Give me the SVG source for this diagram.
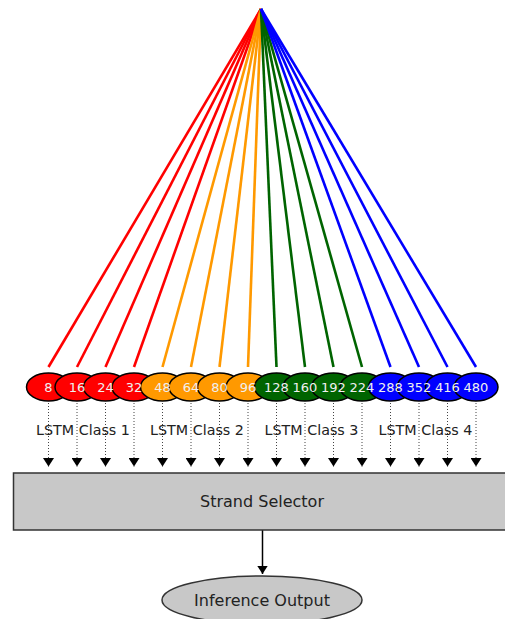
<svg xmlns="http://www.w3.org/2000/svg" width="505" height="619" viewBox="0 0 505 619">
  <style>
    .fan line { stroke-width: 2.6; stroke-linecap: butt; }
    .red { stroke: #ff0000; fill: #ff0000; }
    .orange { stroke: #ff9900; fill: #ff9900; }
    .green { stroke: #006400; fill: #006400; }
    .blue { stroke: #0000ff; fill: #0000ff; }
    .model ellipse { stroke: #000; stroke-width: 1.5; }
    .num { font-family: "DejaVu Sans", sans-serif; font-size: 13px; fill: #f0f0f0; text-anchor: middle; }
    .feed { stroke: #444; stroke-width: 1; stroke-dasharray: 1 2; }
    .solid { stroke: #000; stroke-width: 1.5; }
    .box { fill: #c8c8c8; stroke: #333; stroke-width: 1.5; }
    .lbl { font-family: "DejaVu Sans", sans-serif; font-size: 14.3px; fill: #222; text-anchor: middle; }
    .big { font-size: 16px; }
  </style>
  <defs>
    <marker id="tip" viewBox="0 0 10 10" refX="10" refY="5" markerWidth="8.5" markerHeight="11" markerUnits="userSpaceOnUse" orient="auto" preserveAspectRatio="none">
      <path d="M0,0 L10,5 L0,10 Z" fill="#000"/>
    </marker>
  </defs>

  <!-- fan-out from the source point to each model -->
  <g id="fan" class="fan">
    <line class="red" x1="261" y1="9" x2="48.5" y2="367"/>
    <line class="red" x1="261" y1="9" x2="77" y2="367"/>
    <line class="red" x1="261" y1="9" x2="105.5" y2="367"/>
    <line class="red" x1="261" y1="9" x2="134" y2="367"/>
    <line class="orange" x1="261" y1="9" x2="162.5" y2="367"/>
    <line class="orange" x1="261" y1="9" x2="191" y2="367"/>
    <line class="orange" x1="261" y1="9" x2="219.5" y2="367"/>
    <line class="orange" x1="261" y1="9" x2="248" y2="367"/>
    <line class="green" x1="261" y1="9" x2="276.5" y2="367"/>
    <line class="green" x1="261" y1="9" x2="305" y2="367"/>
    <line class="green" x1="261" y1="9" x2="333.5" y2="367"/>
    <line class="green" x1="261" y1="9" x2="362" y2="367"/>
    <line class="blue" x1="261" y1="9" x2="390.5" y2="367"/>
    <line class="blue" x1="261" y1="9" x2="419" y2="367"/>
    <line class="blue" x1="261" y1="9" x2="447.5" y2="367"/>
    <line class="blue" x1="261" y1="9" x2="476" y2="367"/>
  </g>

  <!-- connectors from models to selector, and selector to output -->
  <g id="connectors">
    <line class="feed" x1="48.5" y1="400" x2="48.5" y2="466.5" marker-end="url(#tip)"/>
    <line class="feed" x1="77" y1="400" x2="77" y2="466.5" marker-end="url(#tip)"/>
    <line class="feed" x1="105.5" y1="400" x2="105.5" y2="466.5" marker-end="url(#tip)"/>
    <line class="feed" x1="134" y1="400" x2="134" y2="466.5" marker-end="url(#tip)"/>
    <line class="feed" x1="162.5" y1="400" x2="162.5" y2="466.5" marker-end="url(#tip)"/>
    <line class="feed" x1="191" y1="400" x2="191" y2="466.5" marker-end="url(#tip)"/>
    <line class="feed" x1="219.5" y1="400" x2="219.5" y2="466.5" marker-end="url(#tip)"/>
    <line class="feed" x1="248" y1="400" x2="248" y2="466.5" marker-end="url(#tip)"/>
    <line class="feed" x1="276.5" y1="400" x2="276.5" y2="466.5" marker-end="url(#tip)"/>
    <line class="feed" x1="305" y1="400" x2="305" y2="466.5" marker-end="url(#tip)"/>
    <line class="feed" x1="333.5" y1="400" x2="333.5" y2="466.5" marker-end="url(#tip)"/>
    <line class="feed" x1="362" y1="400" x2="362" y2="466.5" marker-end="url(#tip)"/>
    <line class="feed" x1="390.5" y1="400" x2="390.5" y2="466.5" marker-end="url(#tip)"/>
    <line class="feed" x1="419" y1="400" x2="419" y2="466.5" marker-end="url(#tip)"/>
    <line class="feed" x1="447.5" y1="400" x2="447.5" y2="466.5" marker-end="url(#tip)"/>
    <line class="feed" x1="476" y1="400" x2="476" y2="466.5" marker-end="url(#tip)"/>
    <line class="solid" x1="262.5" y1="530" x2="262.5" y2="574" marker-end="url(#tip)"/>
  </g>

  <!-- model nodes; each later node overlaps the one before -->
  <g id="m8" class="model"><ellipse class="red" cx="48.5" cy="387" rx="22" ry="14"/></g>
  <g id="m16" class="model"><ellipse class="red" cx="77" cy="387" rx="22" ry="14"/></g>
  <g id="m24" class="model"><ellipse class="red" cx="105.5" cy="387" rx="22" ry="14"/></g>
  <g id="m32" class="model"><ellipse class="red" cx="134" cy="387" rx="22" ry="14"/></g>
  <g id="m48" class="model"><ellipse class="orange" cx="162.5" cy="387" rx="22" ry="14"/></g>
  <g id="m64" class="model"><ellipse class="orange" cx="191" cy="387" rx="22" ry="14"/></g>
  <g id="m80" class="model"><ellipse class="orange" cx="219.5" cy="387" rx="22" ry="14"/></g>
  <g id="m96" class="model"><ellipse class="orange" cx="248" cy="387" rx="22" ry="14"/></g>
  <g id="m128" class="model"><ellipse class="green" cx="276.5" cy="387" rx="22" ry="14"/></g>
  <g id="m160" class="model"><ellipse class="green" cx="305" cy="387" rx="22" ry="14"/></g>
  <g id="m192" class="model"><ellipse class="green" cx="333.5" cy="387" rx="22" ry="14"/></g>
  <g id="m224" class="model"><ellipse class="green" cx="362" cy="387" rx="22" ry="14"/></g>
  <g id="m288" class="model"><ellipse class="blue" cx="390.5" cy="387" rx="22" ry="14"/></g>
  <g id="m352" class="model"><ellipse class="blue" cx="419" cy="387" rx="22" ry="14"/></g>
  <g id="m416" class="model"><ellipse class="blue" cx="447.5" cy="387" rx="22" ry="14"/></g>
  <g id="m480" class="model"><ellipse class="blue" cx="476" cy="387" rx="22" ry="14"/></g>

  <!-- model sizes, drawn above all ellipses so none are clipped -->
  <g id="model-sizes" class="num">
    <text x="48.5" y="391.5">8</text>
    <text x="77" y="391.5">16</text>
    <text x="105.5" y="391.5">24</text>
    <text x="134" y="391.5">32</text>
    <text x="162.5" y="391.5">48</text>
    <text x="191" y="391.5">64</text>
    <text x="219.5" y="391.5">80</text>
    <text x="248" y="391.5">96</text>
    <text x="276.5" y="391.5">128</text>
    <text x="305" y="391.5">160</text>
    <text x="333.5" y="391.5">192</text>
    <text x="362" y="391.5">224</text>
    <text x="390.5" y="391.5">288</text>
    <text x="419" y="391.5">352</text>
    <text x="447.5" y="391.5">416</text>
    <text x="476" y="391.5">480</text>
  </g>

  <!-- class labels -->
  <g id="class-labels">
    <text class="lbl" x="83" y="435">LSTM Class 1</text>
    <text class="lbl" x="197" y="435">LSTM Class 2</text>
    <text class="lbl" x="311.5" y="435">LSTM Class 3</text>
    <text class="lbl" x="425.5" y="435">LSTM Class 4</text>
  </g>

  <g id="strand-selector">
    <rect class="box" x="13.5" y="473" width="500" height="57"/>
    <text class="lbl big" x="262" y="506.5">Strand Selector</text>
  </g>

  <g id="inference-output">
    <ellipse class="box" cx="262" cy="600" rx="100" ry="24"/>
    <text class="lbl big" x="262" y="606">Inference Output</text>
  </g>
</svg>
